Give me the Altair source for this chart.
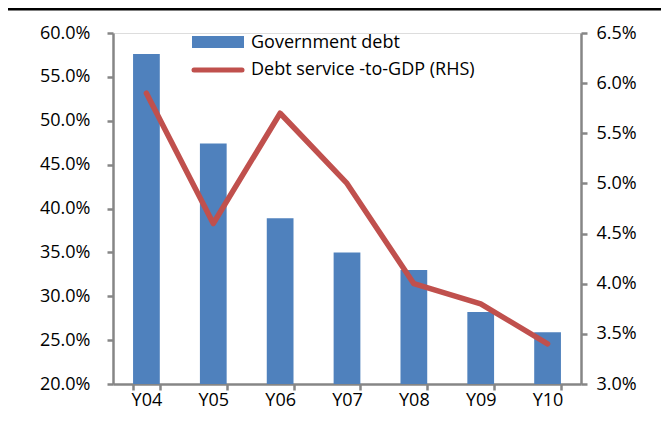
import altair as alt
import pandas as pd

years = ["Y04", "Y05", "Y06", "Y07", "Y08", "Y09", "Y10"]
gov_debt = [57.6, 47.4, 38.9, 35.0, 33.0, 28.2, 25.9]
debt_service = [5.9, 4.6, 5.7, 5.0, 4.0, 3.8, 3.4]
series_names = ["Government debt", "Debt service -to-GDP (RHS)"]
left_ticks = [20, 25, 30, 35, 40, 45, 50, 55, 60]
right_ticks = [3.0, 3.5, 4.0, 4.5, 5.0, 5.5, 6.0, 6.5]

df = pd.DataFrame({"year": years, "debt": gov_debt, "service": debt_service})

FONT = "Open Sans"
AX = "#868686"
BLUE = "#4F81BD"
RED = "#C0504D"
W, H = 468, 351

axis_common = dict(
    domainColor=AX, tickColor=AX, domainWidth=2.5, tickWidth=2.5, tickSize=6,
    labelFont=FONT, labelFontSize=18, labelColor="black", grid=False, title=None,
)

x_enc = alt.X(
    "year:N", sort=years,
    scale=alt.Scale(paddingInner=0.6, paddingOuter=0.3),
    axis=alt.Axis(labelAngle=0, tickBand="extent", labelPadding=1, **axis_common),
)

bars = alt.Chart(df).mark_bar(color=BLUE).encode(
    x=x_enc,
    y=alt.Y(
        "debt:Q",
        scale=alt.Scale(domain=[20, 60], nice=False, zero=False),
        axis=alt.Axis(orient="left", values=left_ticks, labelPadding=17,
                      labelExpr="format(datum.value, '.1f') + '%'", **axis_common),
    ),
    y2=alt.datum(20),
)

line = alt.Chart(df).mark_line(
    color=RED, strokeWidth=5.5, strokeCap="round", strokeJoin="round"
).encode(
    x=x_enc,
    y=alt.Y(
        "service:Q",
        scale=alt.Scale(domain=[3.0, 6.5], nice=False, zero=False),
        axis=alt.Axis(orient="right", values=right_ticks, labelPadding=9,
                      labelExpr="format(datum.value, '.1f') + '%'", **axis_common),
    ),
)

leg1 = pd.DataFrame({"name": [series_names[0]]})
leg2 = pd.DataFrame({"name": [series_names[1]]})

sw1 = alt.Chart(leg1).mark_rect(color=BLUE).encode(
    x=alt.value(79), x2=alt.value(131), y=alt.value(3), y2=alt.value(15)
)
sw2 = alt.Chart(leg2).mark_rule(color=RED, strokeWidth=5, strokeCap="round").encode(
    x=alt.value(81), x2=alt.value(129), y=alt.value(37)
)
tx1 = alt.Chart(leg1).mark_text(
    align="left", baseline="middle", font=FONT, fontSize=18, color="black"
).encode(text="name:N", x=alt.value(138), y=alt.value(10))
tx2 = alt.Chart(leg2).mark_text(
    align="left", baseline="middle", font=FONT, fontSize=18, color="black"
).encode(text="name:N", x=alt.value(138), y=alt.value(37))

top_rule = alt.Chart(leg1).mark_rule(color="black", strokeWidth=3).encode(
    x=alt.value(-106), x2=alt.value(555), y=alt.value(-24)
)

chart = alt.layer(bars, line, sw1, sw2, tx1, tx2, top_rule).resolve_scale(
    y="independent"
).properties(
    width=W, height=H,
    autosize=alt.AutoSizeParams(type="none"),
    padding={"left": 105, "top": 25, "right": 80, "bottom": 38},
).configure_view(stroke=None).configure(background="white")

chart.save("out.html", embed_options={"renderer": "svg", "actions": False})
